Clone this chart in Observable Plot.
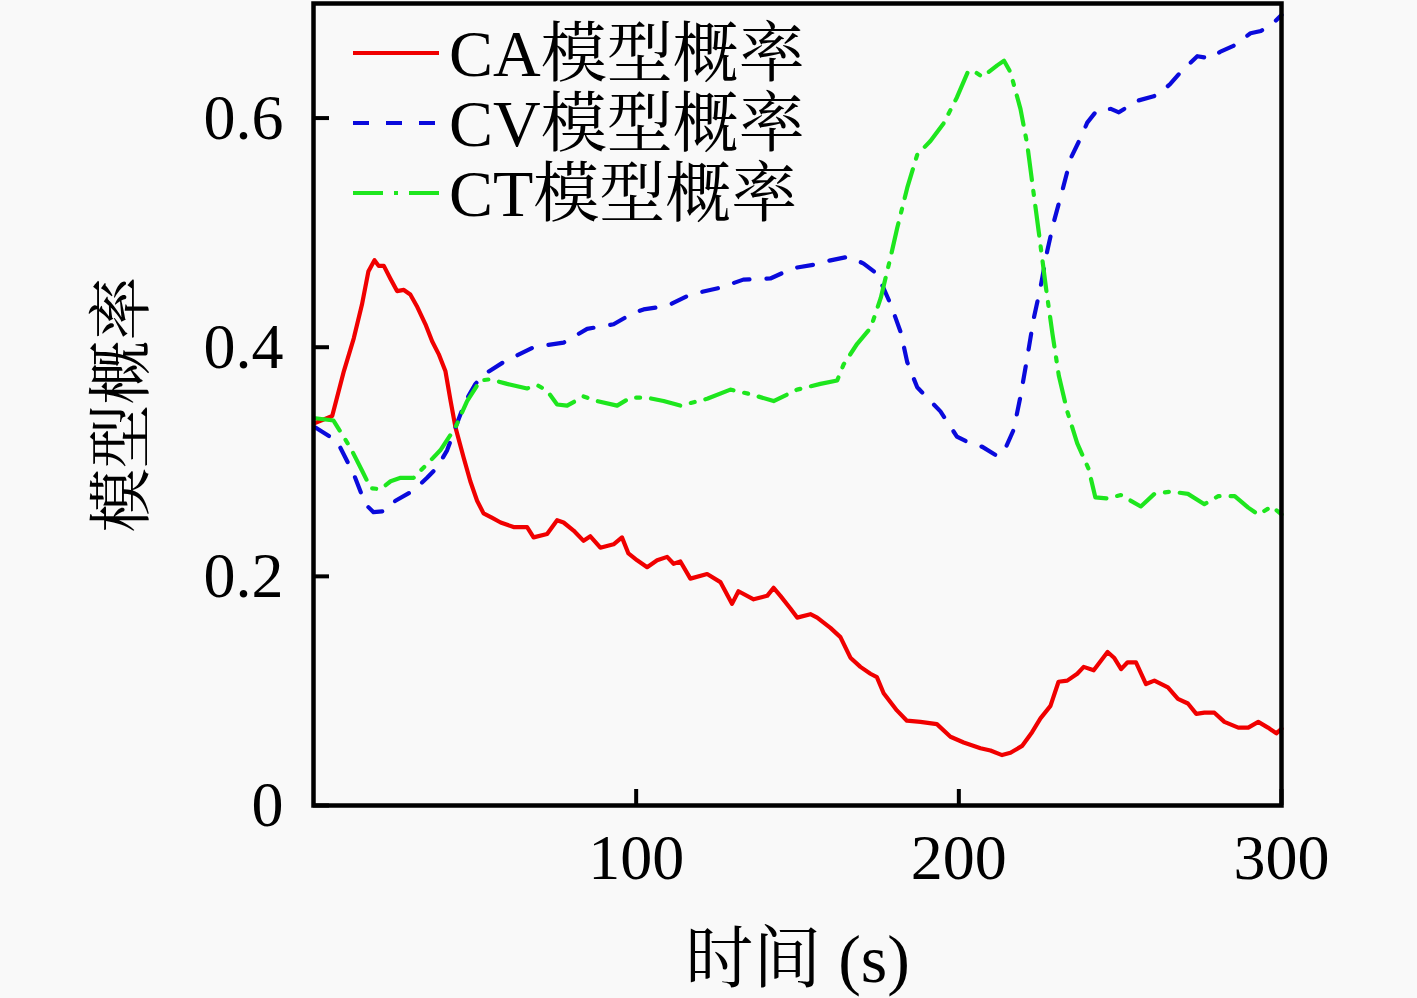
<!DOCTYPE html>
<html>
<head>
<meta charset="utf-8">
<script src="https://cdn.jsdelivr.net/npm/d3@7"></script>
<script src="https://cdn.jsdelivr.net/npm/@observablehq/plot@0.6"></script>
<style>
  html, body { margin: 0; padding: 0; background: #f9f9f9; }
  #chart svg { display: block; }
</style>
</head>
<body>
<div id="chart"></div>
<script>
// Time samples (s) and model probabilities
const caTime = [0.6,5.8,9.4,12.5,15,17,18.9,20.2,21.8,23.8,25.9,28,30,32,34.7,36.8,38.8,40.9,42.5,44,46.5,48.6,50.7,52.7,55.4,58,62,66.2,68.2,72.4,75.5,77.5,80.6,83.7,85.8,88.9,93,95.6,97.6,100.3,103.4,106.5,109.6,111.6,113.7,116.8,122,126.1,129.7,131.7,136.4,140.6,142.6,144.7,147.8,149.9,154,156.1,160.2,163.3,166.4,169.5,172.6,174.6,176.7,180.8,183.9,188.1,193.2,197.4,201.5,206.7,209.8,213.4,216,219.6,222.7,225.3,228.4,230.9,233.6,236.7,238.7,241.8,246.1,248.1,250.3,252.3,254.9,258,260.6,264.8,267.9,271,273.6,276.1,279.2,282.3,286.6,289.7,292.8,295.8,298.4,300];
const caProb = [0.334,0.340,0.379,0.408,0.437,0.466,0.476,0.471,0.471,0.460,0.449,0.450,0.446,0.436,0.420,0.405,0.394,0.379,0.353,0.330,0.304,0.283,0.266,0.255,0.251,0.247,0.243,0.243,0.234,0.237,0.249,0.247,0.240,0.231,0.235,0.225,0.228,0.234,0.220,0.214,0.208,0.214,0.217,0.211,0.213,0.198,0.202,0.195,0.176,0.187,0.180,0.183,0.190,0.183,0.172,0.164,0.167,0.164,0.155,0.147,0.129,0.121,0.115,0.112,0.098,0.083,0.074,0.073,0.071,0.060,0.055,0.050,0.048,0.044,0.046,0.052,0.064,0.076,0.087,0.108,0.109,0.115,0.121,0.118,0.134,0.129,0.119,0.125,0.125,0.106,0.109,0.103,0.093,0.089,0.080,0.081,0.081,0.073,0.068,0.068,0.073,0.068,0.063,0.067];

const cvTime = [0.6,7.3,12.5,16.1,18.6,22.3,25.4,31,35.2,38.3,41.4,44,47.1,50.2,52.7,58.9,68.2,77.5,84.8,93,99.2,102.3,109.6,116.8,126.1,133.2,141.6,148.7,155,157.1,165.8,170.5,174.7,178.8,182,184,187.1,190.2,194.3,199.4,203.6,207.3,211.9,214,217,219.1,221.2,223.2,225.3,227.4,229.4,232.1,234.7,237.8,239.8,242.9,247.1,249.6,255.2,260.4,262.5,265.6,268.7,273.9,278,281.1,285.1,290.4,293.6,297.5,300];
const cvProb = [0.330,0.318,0.289,0.263,0.256,0.257,0.266,0.275,0.286,0.295,0.310,0.330,0.353,0.368,0.376,0.387,0.400,0.404,0.416,0.420,0.430,0.433,0.436,0.446,0.452,0.459,0.460,0.469,0.472,0.474,0.479,0.473,0.464,0.438,0.413,0.387,0.365,0.356,0.344,0.322,0.316,0.313,0.305,0.309,0.328,0.357,0.391,0.425,0.452,0.484,0.509,0.537,0.565,0.583,0.596,0.607,0.608,0.605,0.615,0.619,0.622,0.630,0.640,0.654,0.652,0.658,0.663,0.674,0.676,0.683,0.690];

const ctTime = [0.6,6.2,11.5,15.1,17.7,20.8,23.9,27,31,35.2,39.3,44,47.6,51.7,54.8,60,66.2,69.3,72.4,75.5,78.6,83.7,87.9,94.1,98.2,103.4,108.5,113.7,122,129.2,135.4,142.6,149.9,157.1,162.3,164.3,168.5,172.7,175.8,178.8,180.9,184,187.1,191.2,195.2,199.4,202.9,204.6,207.3,211.9,214,216,219.1,221.2,223.2,224.8,227,229,231,233.6,236.7,240.2,242.3,246,250.2,256.4,260.6,265.8,271,276.1,280.4,285.5,289.7,292.8,297,300];
const ctProb = [0.338,0.336,0.312,0.292,0.277,0.276,0.283,0.286,0.286,0.298,0.310,0.330,0.353,0.371,0.372,0.368,0.364,0.367,0.362,0.350,0.349,0.357,0.353,0.349,0.356,0.356,0.353,0.349,0.355,0.363,0.359,0.353,0.363,0.368,0.371,0.385,0.403,0.417,0.443,0.478,0.504,0.539,0.568,0.580,0.595,0.618,0.641,0.641,0.636,0.646,0.650,0.640,0.608,0.577,0.534,0.500,0.452,0.412,0.375,0.344,0.316,0.294,0.269,0.268,0.271,0.261,0.272,0.274,0.272,0.263,0.270,0.270,0.260,0.254,0.261,0.254];

const seriesNames = ["CA模型概率", "CV模型概率", "CT模型概率"];
const seriesColors = ["#f00000", "#0a0adc", "#1ee61e"];
const seriesDash = [null, "16,17", "30,11,4,11"];
const xTicks = [100, 200, 300];
const yTicks = [0, 0.2, 0.4, 0.6];
const xLabel = "时间 (s)";
const yLabel = "模型概率";

const toRows = (ts, ps) => ts.map((t, i) => ({t, p: ps[i]}));
const seriesData = [toRows(caTime, caProb), toRows(cvTime, cvProb), toRows(ctTime, ctProb)];

const font = "'Liberation Serif', 'Noto Serif CJK SC', 'Noto Sans CJK SC', serif";

const chart = Plot.plot({
  width: 1417,
  height: 998,
  marginLeft: 313,
  marginRight: 136,
  marginTop: 3,
  marginBottom: 193,
  x: {domain: [0, 300]},
  y: {domain: [0, 0.7]},
  style: {fontFamily: font, fontSize: "64px", background: "#f9f9f9", color: "black"},
  marks: [
    ...seriesData.map((d, i) => Plot.line(d, {
      x: "t", y: "p", stroke: seriesColors[i], strokeWidth: 4.2,
      strokeDasharray: seriesDash[i] ?? undefined, strokeLinejoin: "round"
    })),
    Plot.frame({stroke: "black", strokeWidth: 4.5}),
    Plot.axisY(yTicks, {
      anchor: "left", tickSize: -16, strokeWidth: 4, tickPadding: 46,
      tickFormat: d => d === 0 ? "0" : d.toFixed(1), label: null, fontSize: 64
    }),
    Plot.axisX(xTicks, {
      anchor: "bottom", tickSize: -16, strokeWidth: 4, tickPadding: 44,
      tickFormat: d => String(d), label: null, fontSize: 64
    }),
    Plot.text([xLabel], {frameAnchor: "bottom", dy: 155, lineAnchor: "middle", fontSize: 68, text: d => d}),
    Plot.text([yLabel], {frameAnchor: "left", dx: -191, rotate: -90, lineAnchor: "middle", textAnchor: "middle", fontSize: 64, text: d => d})
  ]
});

document.getElementById("chart").appendChild(chart);

// Legend (top-left, inside frame)
const svg = d3.select(chart);
const lg = svg.append("g").attr("class", "legend").attr("text-anchor", "start");
const rowY = [53, 123, 193];
seriesNames.forEach((name, i) => {
  lg.append("line")
    .attr("x1", 353).attr("x2", 439)
    .attr("y1", rowY[i]).attr("y2", rowY[i])
    .attr("stroke", seriesColors[i]).attr("stroke-width", 4.2)
    .attr("stroke-dasharray", seriesDash[i]);
  lg.append("text")
    .attr("x", 449).attr("y", rowY[i])
    .attr("dy", "0.35em")
    .attr("text-anchor", "start")
    .attr("font-family", font)
    .attr("font-size", 66)
    .attr("fill", "black")
    .text(name);
});
</script>
</body>
</html>
